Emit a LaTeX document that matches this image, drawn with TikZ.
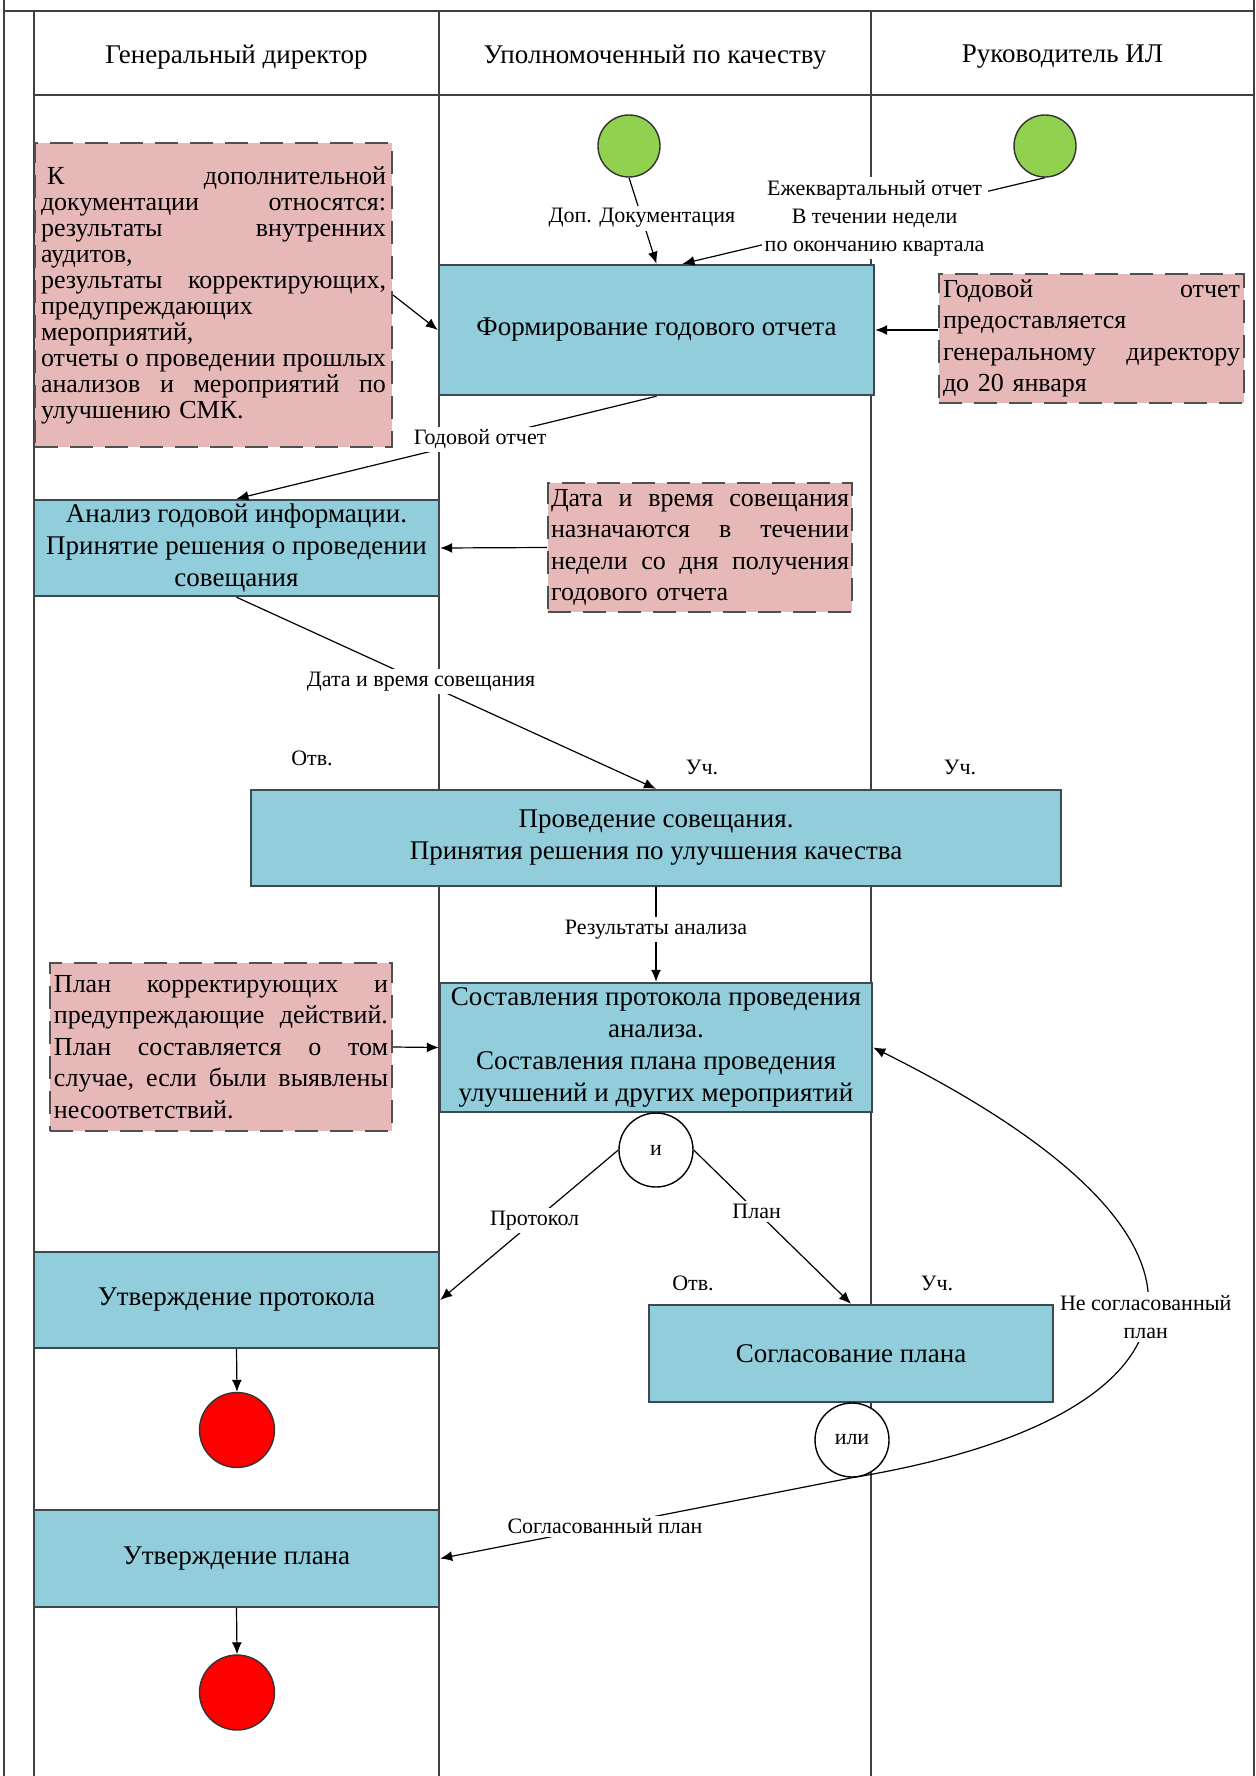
\documentclass[tikz,border=0pt]{standalone}
\usepackage{fontspec}
\setmainfont{Liberation Serif}
\usepackage{tikz}
\usetikzlibrary{arrows.meta,calc}
\tikzset{>={Latex[width=5pt,length=6pt]}}
\definecolor{laneblue}{HTML}{92CDDC}
\definecolor{boxedge}{HTML}{3A4A50}
\definecolor{notepink}{HTML}{E6B9B8}
\definecolor{noteedge}{HTML}{505050}
\definecolor{laneline}{HTML}{404040}
\definecolor{startgreen}{HTML}{92D050}
\definecolor{stopred}{HTML}{FF0000}
% one justified line of a note, words split by \hfill (\nw = text width)
\newcommand\jline[1]{\leavevmode\hbox to \nw{#1}}

\begin{document}
\begin{tikzpicture}[x=0.5pt,y=-0.5pt,
  lane/.style={draw=laneline,line width=1pt},
  head/.style={font=\fontsize{13.5}{16}\selectfont},
  stepbox/.style={rectangle,draw=boxedge,line width=1.2pt,fill=laneblue,
    align=center,inner sep=0pt,font=\fontsize{13.5}{16}\selectfont},
  note/.style={rectangle,draw=noteedge,line width=1pt,
    dash pattern=on 11.5pt off 6pt,fill=notepink,inner sep=0pt,
    align=left,font=\fontsize{13}{15.75}\selectfont},
  lbl/.style={fill=white,inner sep=1.5pt,align=center,
    font=\fontsize{11}{14}\selectfont},
  role/.style={font=\fontsize{11}{13}\selectfont},
  startdot/.style={circle,draw=black!80,line width=0.7pt,fill=startgreen,
    minimum size=31pt,inner sep=0pt},
  stopdot/.style={circle,draw=black!80,line width=0.7pt,fill=stopred,
    minimum size=37.5pt,inner sep=0pt},
  gate/.style={circle,draw,line width=0.7pt,fill=white,minimum size=37pt,
    inner sep=0pt,font=\fontsize{11}{13}\selectfont},
  flow/.style={->,line width=0.6pt}]

\useasboundingbox (0,0) rectangle (1256,1776);
\fill[white] (0,0) rectangle (1256,1776);

% swimlanes
\draw[lane] (4,0) -- (4,1776);
\draw[lane] (1254,0) -- (1254,1776);
\draw[lane] (4,11) -- (1254,11);
\draw[lane] (34,95) -- (1254,95);
\foreach \x in {34,439,871}
  \draw[lane] (\x,11) -- (\x,1776);

\node[head] (h1) at (236.5,57) {Генеральный директор};
\node[head] (h2) at (655,57) {Уполномоченный по качеству};
\node[head] (h3) at (1062.5,57) {Руководитель ИЛ};

% start / stop
\node[startdot] (st1) at (629,146) {};
\node[startdot] (st2) at (1045,146) {};
\node[stopdot] (end1) at (237,1430) {};
\node[stopdot] (end2) at (237,1692.5) {};

% steps
\node[stepbox,minimum width=217.5pt,minimum height=65pt] (B1) at (656.5,330)
  {Формирование годового отчета};
\node[stepbox,minimum width=202.5pt,minimum height=48pt] (B2) at (236.5,548)
  {Анализ годовой информации.\\Принятие решения о проведении\\совещания};
\node[stepbox,minimum width=405pt,minimum height=48pt] (B3) at (656,838)
  {Проведение совещания.\\Принятия решения по улучшения качества};
\node[stepbox,minimum width=216pt,minimum height=64.5pt] (B4) at (656,1047.5)
  {Составления протокола проведения\\анализа.\\Составления плана проведения\\улучшений и других мероприятий};
\node[stepbox,minimum width=202.5pt,minimum height=48pt] (B5) at (236.5,1300)
  {Утверждение протокола};
\node[stepbox,minimum width=202pt,minimum height=48.5pt] (B6) at (851,1353.5)
  {Согласование плана};
\node[stepbox,minimum width=202.5pt,minimum height=48.5pt] (B7) at (236.5,1558.5)
  {Утверждение плана};

\node[gate] (and1) at (656,1150) {и};
\node[gate] (or1) at (852,1440) {или};

% notes
\def\nw{172.5pt}
\node[note,text width=\nw,minimum width=178.5pt,minimum height=152pt,
  font=\fontsize{13}{13}\selectfont] (N1) at (213.5,295)
  {\jline{\hspace{3pt}К\hfill дополнительной}\\
   \jline{документации\hfill относятся:}\\
   \jline{результаты\hfill внутренних}\\
   аудитов,\\
   \jline{результаты\hfill корректирующих,}\\
   предупреждающих\\
   мероприятий,\\
   \jline{отчеты\hfill о\hfill проведении\hfill прошлых}\\
   \jline{анализов\hfill и\hfill мероприятий\hfill по}\\
   улучшению СМК.};
\def\nw{148.5pt}
\node[note,text width=\nw,minimum width=152.5pt,minimum height=64.5pt]
  (N2) at (1091.5,338.5)
  {\jline{Годовой\hfill отчет}\\
   предоставляется\\
   \jline{генеральному\hfill директору}\\
   до 20 января};
\def\nw{149pt}
\node[note,text width=\nw,minimum width=152pt,minimum height=64.5pt]
  (N3) at (700,547.5)
  {\jline{Дата\hfill и\hfill время\hfill совещания}\\
   \jline{назначаются\hfill в\hfill течении}\\
   \jline{недели\hfill со\hfill дня\hfill получения}\\
   годового отчета};
\def\nw{167pt}
\node[note,text width=\nw,minimum width=171pt,minimum height=84pt]
  (N4) at (221,1047)
  {\jline{План\hfill корректирующих\hfill и}\\
   \jline{предупреждающие\hfill действий.}\\
   \jline{План\hfill составляется\hfill о\hfill том}\\
   \jline{случае,\hfill если\hfill были\hfill выявлены}\\
   несоответствий.};

% roles
\node[role] (r1) at (312,758) {Отв.};
\node[role] (r2) at (702,767) {Уч.};
\node[role] (r3) at (960,767) {Уч.};
\node[role] (r4) at (693,1283) {Отв.};
\node[role] (r5) at (937,1283) {Уч.};

% flows
\draw[flow] (st1.south) -- node[lbl,pos=0.47] {Доп. Документация} (B1.north);
\draw[flow] (st2.south) -- node[lbl,pos=0.47]
  {Ежеквартальный отчет\\В течении недели\\по окончанию квартала}
  ($(B1.north)+(26,0)$);
\draw[flow] (N1.east) -- (B1.west);
\draw[flow] (N2.west |- B1.east) -- (B1.east);
\draw[flow] (B1.south) -- node[lbl,pos=0.42] {Годовой отчет} (B2.north);
\draw[flow] (N3.west) -- (B2.east);
\draw[flow] (B2.south) -- node[lbl,pos=0.44] {Дата и время совещания} (B3.north);
\draw[flow] (B3.south) -- node[lbl,pos=0.45] {Результаты анализа} (B4.north);
\draw[flow] (N4.east) -- (B4.west);
\draw[flow] (and1.west) -- node[lbl,pos=0.47] {Протокол} (B5.east);
\draw[flow] (and1.east) -- node[lbl,pos=0.4] {План} (B6.north);
\draw[flow] (B5.south) -- (end1.north);
\draw[flow] (or1.south) -- node[lbl,pos=0.6] {Согласованный план} (B7.east);
\draw[flow] (or1.south) .. controls (1200,1420) and (1280,1250) ..
  node[lbl,pos=0.5] {Не согласованный\\план} (B4.east);
\draw[flow] (B7.south) -- (end2.north);
\end{tikzpicture}
\end{document}
